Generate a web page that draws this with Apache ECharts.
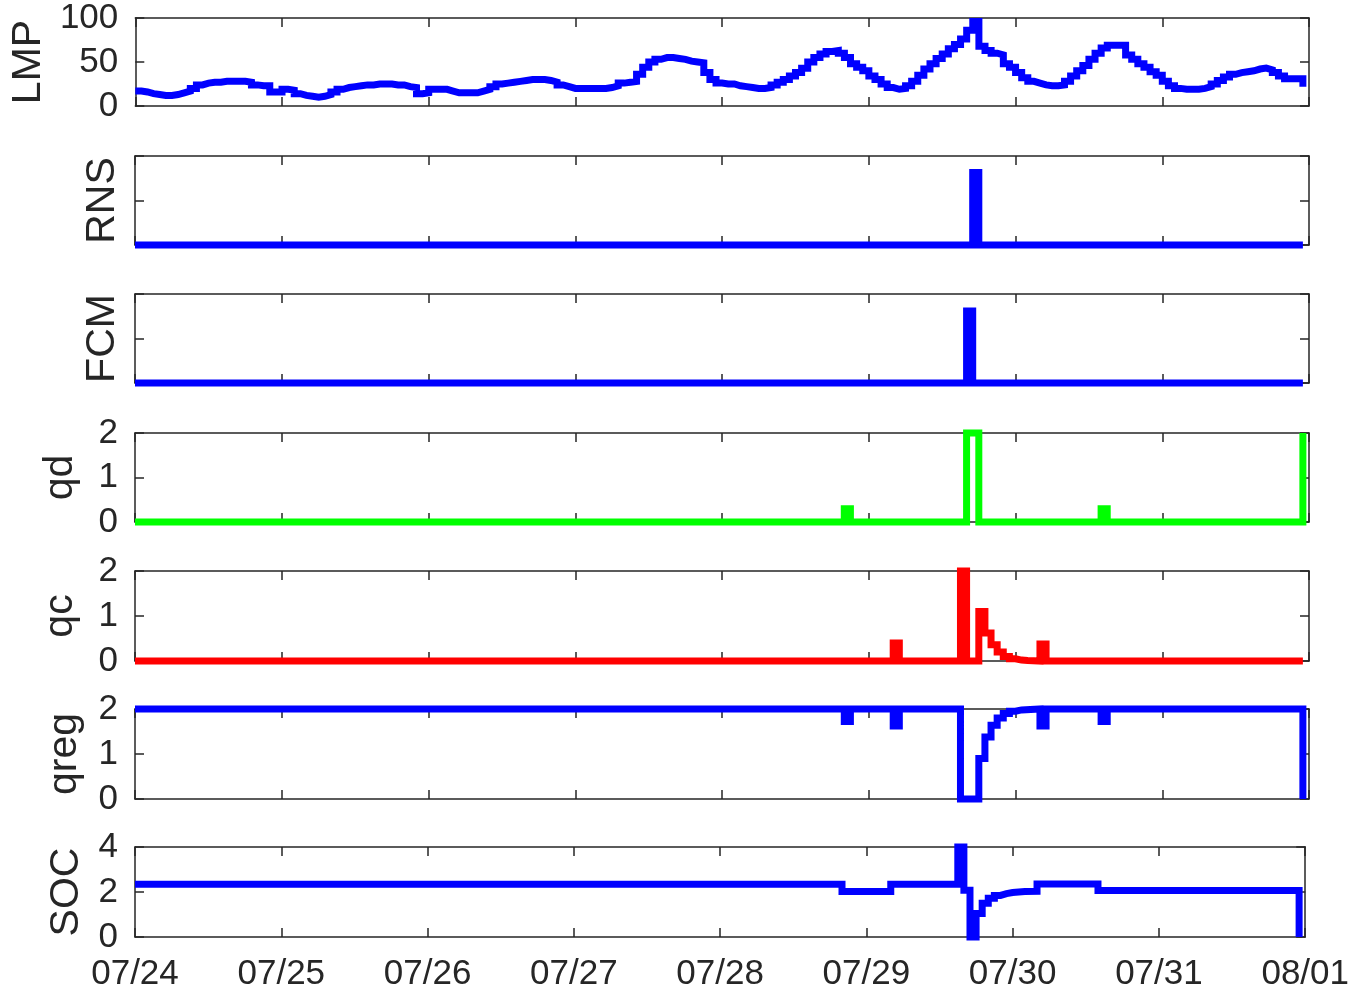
<!DOCTYPE html>
<html>
<head>
<meta charset="utf-8">
<title>LMP, RNS, FCM, qd, qc, qreg, SOC</title>
<script src="https://cdn.jsdelivr.net/npm/echarts@6/dist/echarts.min.js"></script>
<style>
  html, body { margin: 0; padding: 0; background: #ffffff; }
  #chart { width: 1352px; height: 992px; }
</style>
</head>
<body>
<div id="chart"></div>
<script>
// Hourly horizon: 8 days starting 07/24 00:00
const tickLabels = ['07/24', '07/25', '07/26', '07/27', '07/28', '07/29', '07/30', '07/31', '08/01'];

// Locational marginal price, one value per hour (192 hours)
const lmp = [
  17, 16, 14, 13, 12, 12, 13, 15, 17, 20, 24, 26, 27, 27, 28, 28, 28, 28, 27, 24, 23, 23, 16, 16,
  19, 18, 14, 12, 11, 10, 11, 13, 16, 19, 21, 22, 23, 24, 24, 25, 25, 25, 24, 24, 22, 21, 14, 15,
  19, 19, 19, 17, 15, 15, 15, 15, 17, 19, 22, 25, 26, 27, 28, 29, 30, 30, 30, 29, 27, 24, 22, 20,
  20, 20, 20, 20, 20, 21, 23, 26, 27, 28, 36, 44, 50, 53, 55, 55, 54, 53, 51, 50, 49, 38, 30, 26,
  25, 25, 23, 22, 21, 20, 20, 21, 24, 27, 30, 34, 38, 43, 50, 55, 59, 62, 63, 60, 55, 48, 44, 40,
  34, 30, 25, 21, 19, 20, 23, 28, 35, 42, 48, 54, 59, 65, 70, 76, 86, 96, 68, 63, 60, 58, 48, 44,
  38, 32, 28, 26, 24, 23, 23, 24, 28, 34, 40, 46, 53, 60, 66, 69, 69, 69, 58, 53, 48, 44, 39, 35,
  28, 23, 20, 19, 19, 19, 20, 22, 25, 29, 33, 36, 38, 39, 40, 42, 43, 41, 38, 34, 31, 31, 31, 22
];

// The remaining series are piecewise constant: [hour, value] held until the next change
const rns = [[0, 0], [137, 1.63], [138, 0], [191, 0]];
const fcm = [[0, 0], [136, 1.62], [137, 0], [191, 0]];
const qd = [[0, 0], [116, 0.3], [117, 0], [136, 2], [138, 0], [158, 0.3], [159, 0], [191, 2]];
const qc = [
  [0, 0], [124, 0.4], [125, 0], [135, 2], [136, 0], [138, 1.1], [139, 0.62], [140, 0.36],
  [141, 0.2], [142, 0.1], [143, 0.05], [144, 0.02], [145, 0.01], [146, 0], [148, 0.38], [149, 0], [191, 0]
];
const qreg = [
  [0, 2], [116, 1.72], [117, 2], [124, 1.62], [125, 2], [135, 0], [138, 0.9], [139, 1.38],
  [140, 1.64], [141, 1.8], [142, 1.9], [143, 1.95], [144, 1.98], [145, 2], [148, 1.62], [149, 2],
  [158, 1.72], [159, 2], [191, 0]
];
const soc = [
  [0, 2.35], [116, 2.02], [124, 2.35], [135, 4], [136, 2.08], [137, 0], [138, 1.05], [139, 1.5],
  [140, 1.72], [141, 1.85], [142, 1.93], [143, 1.98], [144, 2.0], [145, 2.02], [146, 2.03],
  [148, 2.36], [158, 2.07], [191, 0]
];

const lmpPoints = lmp.map((v, h) => [h, v]);

// Use the narrow sans face when it is installed, otherwise the regular one at a smaller size
function hasFont(family) {
  const ctx = document.createElement('canvas').getContext('2d');
  ctx.font = '40px monospace';
  const base = ctx.measureText('07/24 LMP qreg').width;
  ctx.font = '40px "' + family + '", monospace';
  return Math.abs(ctx.measureText('07/24 LMP qreg').width - base) > 0.5;
}
const narrow = hasFont('Liberation Sans Narrow');
const FONT = narrow ? '"Liberation Sans Narrow", "Liberation Sans", Arial, sans-serif'
                    : '"Liberation Sans", Arial, sans-serif';
const TICK_SIZE = narrow ? 42 : 35;
const NAME_SIZE = narrow ? 50 : 41;

const AXIS_COLOR = '#262626';

const panels = [
  { name: 'LMP',  data: lmpPoints, color: '#0000ff', top: 18,  height: 88, min: 0, max: 100, interval: 50, labels: true,  gap: 85 },
  { name: 'RNS',  data: rns,       color: '#0000ff', top: 156, height: 89, min: 0, max: 2,   interval: 1,  labels: false, gap: 12 },
  { name: 'FCM',  data: fcm,       color: '#0000ff', top: 294, height: 89, min: 0, max: 2,   interval: 1,  labels: false, gap: 12 },
  { name: 'qd',   data: qd,        color: '#00ff00', top: 433, height: 89, min: 0, max: 2,   interval: 1,  labels: true,  gap: 54 },
  { name: 'qc',   data: qc,        color: '#ff0000', top: 571, height: 90, min: 0, max: 2,   interval: 1,  labels: true,  gap: 54 },
  { name: 'qreg', data: qreg,      color: '#0000ff', top: 709, height: 90, min: 0, max: 2,   interval: 1,  labels: true,  gap: 50 },
  { name: 'SOC',  data: soc,       color: '#0000ff', top: 847, height: 90, min: 0, max: 4,   interval: 2,  labels: true,  gap: 44 }
];

const grid = [], xAxis = [], yAxis = [], series = [];
const lineStyle = { color: AXIS_COLOR, width: 1.5 };

panels.forEach((p, i) => {
  const last = i === panels.length - 1;
  grid.push({ left: 135, right: 43, top: p.top, height: p.height });

  // bottom and top x axes (box with inward ticks on both sides)
  ['bottom', 'top'].forEach(pos => {
    xAxis.push({
      type: 'value', gridIndex: i, position: pos, min: 0, max: 192, interval: 24,
      axisLine: { show: true, onZero: false, lineStyle },
      axisTick: { show: true, inside: true, length: 9, lineStyle },
      splitLine: { show: false },
      axisLabel: {
        show: last && pos === 'bottom', margin: 20,
        color: AXIS_COLOR, fontFamily: FONT, fontSize: TICK_SIZE,
        formatter: v => tickLabels[Math.round(v / 24)]
      }
    });
  });

  // left and right y axes
  ['left', 'right'].forEach(pos => {
    const ax = {
      type: 'value', gridIndex: i, position: pos, min: p.min, max: p.max, interval: p.interval,
      axisLine: { show: true, onZero: false, lineStyle },
      axisTick: { show: true, inside: true, length: 9, lineStyle },
      splitLine: { show: false },
      axisLabel: {
        show: p.labels && pos === 'left', margin: 17,
        color: AXIS_COLOR, fontFamily: FONT, fontSize: TICK_SIZE
      }
    };
    if (pos === 'left') {
      Object.assign(ax, {
        name: p.name, nameLocation: 'middle', nameRotate: 90, nameGap: p.gap,
        nameTextStyle: { color: AXIS_COLOR, fontFamily: FONT, fontSize: NAME_SIZE }
      });
    }
    yAxis.push(ax);
  });

  series.push({
    type: 'line', name: p.name, xAxisIndex: 2 * i, yAxisIndex: 2 * i,
    step: 'end', data: p.data, showSymbol: false, clip: false, z: 5,
    lineStyle: { color: p.color, width: 7, join: 'miter', cap: 'butt' }
  });
});

const chart = echarts.init(document.getElementById('chart'), null, { renderer: 'canvas' });
chart.setOption({
  backgroundColor: '#ffffff',
  animation: false,
  grid, xAxis, yAxis, series
});
</script>
</body>
</html>
